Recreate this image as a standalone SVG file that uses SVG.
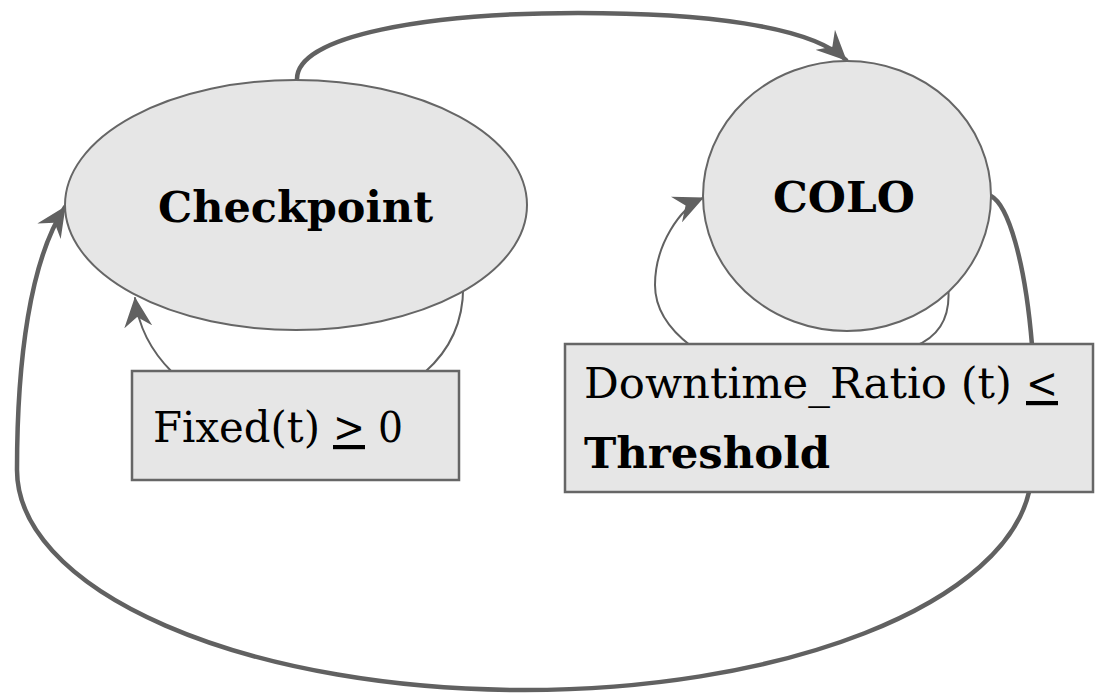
<svg xmlns="http://www.w3.org/2000/svg" width="1095" height="693" viewBox="0 0 1095 693">
  <style>
    .node { fill: #e6e6e6; stroke: #666666; stroke-width: 2; }
    .box { fill: #e6e6e6; stroke: #666666; stroke-width: 2.5; }
    .edge { fill: none; stroke: #616161; stroke-linecap: round; stroke-linejoin: round; }
    .thick { stroke-width: 4.5; }
    .thin { stroke-width: 2; }
    .label { font-family: "DejaVu Serif", "Liberation Serif", serif; font-size: 42px; fill: #000000; }
    .bold { font-weight: bold; }
    .under { text-decoration: underline; }
  </style>
  <defs>
    <marker id="arrow" viewBox="0 0 30 28" refX="29" refY="14" markerWidth="30" markerHeight="28" markerUnits="userSpaceOnUse" orient="auto">
      <path d="M0,0 L30,14 L0,28 L10,14 z" fill="#616161"/>
    </marker>
  </defs>

  <!-- transitions -->
  <g id="connectors">
    <!-- Checkpoint to COLO over the top -->
    <path class="edge thick" d="M297,80 C295,35 430,13 578,13 C700,13 810,25 846,60" marker-end="url(#arrow)"/>
    <!-- COLO back to Checkpoint around the bottom -->
    <path class="edge thick" d="M991,196 C1008,205 1025,260 1032,345 L1029,492 A507,220 0 0 1 524,690 A507,220 0 0 1 17,470 C17,360 30,260 65,207" marker-end="url(#arrow)"/>
    <!-- Checkpoint self loop -->
    <path class="edge thin" d="M463,280 C465,320 450,350 425,372 L172,372 C150,350 138,325 135,298" marker-end="url(#arrow)"/>
    <!-- COLO self loop -->
    <path class="edge thin" d="M948,285 C952,322 935,338 915,346 L691,346 C670,330 655,310 655,285 C655,245 680,208 703,198" marker-end="url(#arrow)"/>
  </g>

  <g id="checkpoint">
    <ellipse class="node" cx="296" cy="205" rx="231" ry="125"/>
    <text class="label bold" x="158" y="222" textLength="275" lengthAdjust="spacingAndGlyphs">Checkpoint</text>
  </g>

  <g id="colo">
    <ellipse class="node" cx="847" cy="196" rx="144" ry="135"/>
    <text class="label bold" x="773" y="212" textLength="142" lengthAdjust="spacingAndGlyphs">COLO</text>
  </g>

  <g id="fixed-condition">
    <rect class="box" x="132" y="371" width="327" height="109"/>
    <text class="label" x="153" y="442" textLength="167" lengthAdjust="spacingAndGlyphs">Fixed(t)</text>
    <text class="label under" x="333" y="442" textLength="32" lengthAdjust="spacingAndGlyphs">&gt;</text>
    <text class="label" x="378" y="442" textLength="25" lengthAdjust="spacingAndGlyphs">0</text>
  </g>

  <g id="downtime-condition">
    <rect class="box" x="565" y="344" width="528" height="148"/>
    <text class="label" x="584" y="398" textLength="428" lengthAdjust="spacingAndGlyphs">Downtime_Ratio (t)</text>
    <text class="label under" x="1026" y="398" textLength="32" lengthAdjust="spacingAndGlyphs">&lt;</text>
    <text class="label bold" x="584" y="468" textLength="246" lengthAdjust="spacingAndGlyphs">Threshold</text>
  </g>
</svg>
